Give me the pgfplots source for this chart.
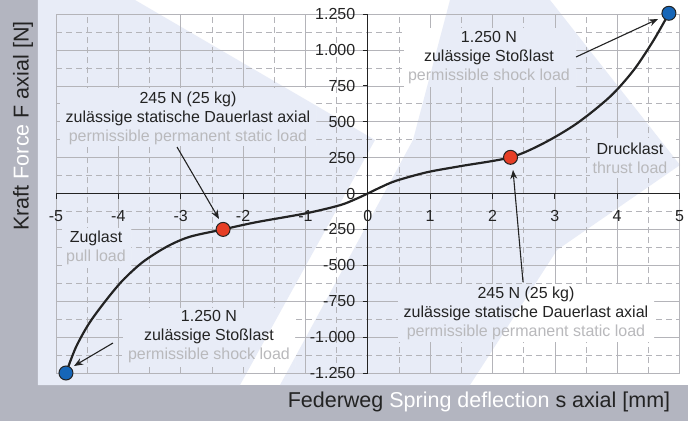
\documentclass[border=0pt]{standalone}
\usepackage{pgfplots}
\pgfplotsset{compat=1.18}
\usetikzlibrary{arrows.meta}
\usepackage{fontspec}
\setmainfont{Liberation Sans}
\definecolor{strip}{RGB}{179,181,192}
\definecolor{wm}{RGB}{232,236,247}
\definecolor{txt}{RGB}{35,35,35}
\definecolor{txtgrey}{RGB}{185,185,188}
\definecolor{gridc}{RGB}{180,180,185}
\definecolor{redpt}{RGB}{230,62,38}
\definecolor{bluept}{RGB}{22,102,184}
\newcommand{\wmark}{%
  \fill[white] (38,0) rectangle (688,385);
  \fill[wm] (38,0) -- (135,0) -- (375,140) -- (240,385) -- (38,385) -- cycle;
  \fill[wm] (450,0) -- (550,0) -- (680,165) -- (557,250) -- (470,385) -- (280,385) -- (413,140) -- cycle;
}
\newcommand{\knock}[4]{\begin{scope}\clip (#1,#2) rectangle (#3,#4); \wmark \end{scope}}
\begin{document}
\begin{tikzpicture}
\begin{scope}[shift={(-56pt,373pt)}, x=1pt, y=-1pt]
  \fill[strip] (0,0) rectangle (688,421);
  \wmark
\end{scope}
\begin{axis}[
  at={(0pt,0pt)}, anchor=south west, scale only axis,
  width=623.5pt, height=359pt,
  xmin=-5, xmax=5, ymin=-1250, ymax=1250,
  axis lines=middle, axis line style={txt, line width=0.9pt, -},
  xtick={-5,-4,...,5}, ytick={-1250,-1000,...,1250},
  xticklabels={-5,-4,-3,-2,-1,0,1,2,3,4,5},
  yticklabels={-1.250,-1.000,-750,-500,-250,0,250,500,750,1.000,1.250},
  minor x tick num=1, minor y tick num=1,
  grid=both,
  major grid style={gridc, line width=0.6pt, solid},
  minor grid style={gridc, line width=0.6pt, dash pattern=on 6pt off 4pt},
  tick align=outside, major tick length=5pt, minor tick length=0pt,
  tick style={txt, line width=0.8pt},
  ticklabel style={font=\fontsize{16}{19}\selectfont, text=txt},
  xticklabel style={anchor=base, yshift=-23pt},
  yticklabel style={anchor=east, xshift=-4pt},
  hide obscured x ticks=false, hide obscured y ticks=false,
  clip=false,
]
\addplot[smooth, tension=0.5, color=txt, line width=2.2pt] coordinates {
(-4.84,-1250) (-4.68,-1070) (-4.47,-905) (-4.20,-745) (-3.93,-605) (-3.61,-478)
(-3.23,-372) (-2.86,-302) (-2.32,-250) (-1.79,-200) (-0.99,-138) (-0.45,-82)
(-0.2,-40) (0,0) (0.2,42) (0.45,88) (0.95,148) (1.48,190) (2.29,252) (2.82,350) (3.36,490)
(3.89,676) (4.27,862) (4.59,1071) (4.83,1255)};
\addplot[only marks, mark=*, mark size=7pt, mark options={fill=redpt, draw=txt, line width=1pt}]
  coordinates {(-2.32,-250) (2.29,252)};
\addplot[only marks, mark=*, mark size=7pt, mark options={fill=bluept, draw=txt, line width=1pt}]
  coordinates {(-4.84,-1250) (4.83,1255)};
\end{axis}
\begin{scope}[shift={(-56pt,373pt)}, x=1pt, y=-1pt]
  \knock{60}{89}{316}{146}
  \knock{398}{284}{654}{341}
  \knock{404}{29}{576}{87}
  \knock{123}{308}{295}{366}
  \knock{62}{228}{131}{267}
  \knock{590}{139}{672}{178}
  \tikzset{ann/.style={align=center, font=\fontsize{16}{19}\selectfont, text=txt, inner sep=0pt}}
  \node[ann] at (188,118) {245 N (25 kg)\\zulässige statische Dauerlast axial\\\textcolor{txtgrey}{permissible permanent static load}};
  \node[ann] at (526,313) {245 N (25 kg)\\zulässige statische Dauerlast axial\\\textcolor{txtgrey}{permissible permanent static load}};
  \node[ann] at (489,58) {1.250 N\\zulässige Stoßlast\\\textcolor{txtgrey}{permissible shock load}};
  \node[ann] at (209,337) {1.250 N\\zulässige Stoßlast\\\textcolor{txtgrey}{permissible shock load}};
  \node[ann] at (96,247.5) {Zuglast\\\textcolor{txtgrey}{pull load}};
  \node[ann] at (630,158.5) {Drucklast\\\textcolor{txtgrey}{thrust load}};
  \tikzset{arr/.style={-{Stealth[length=9pt,width=7pt]}, line width=1.1pt, txt}}
  \draw[arr] (177,147) -- (219,219);
  \draw[arr] (523,282) -- (513,170);
  \draw[arr] (576,57) -- (658,19);
  \draw[arr] (113,343) -- (74,366);
  \node[rotate=90, font=\fontsize{21.5}{24}\selectfont, text=txt] at (23,126) {Kraft \textcolor{white}{Force} F axial [N]};
  \node[font=\fontsize{21.5}{24}\selectfont, text=txt] at (479,402) {Federweg \textcolor{white}{Spring deflection} s axial [mm]};
  \pgfresetboundingbox
  \path[use as bounding box] (0,0) rectangle (688,421);
\end{scope}
\end{tikzpicture}
\end{document}
